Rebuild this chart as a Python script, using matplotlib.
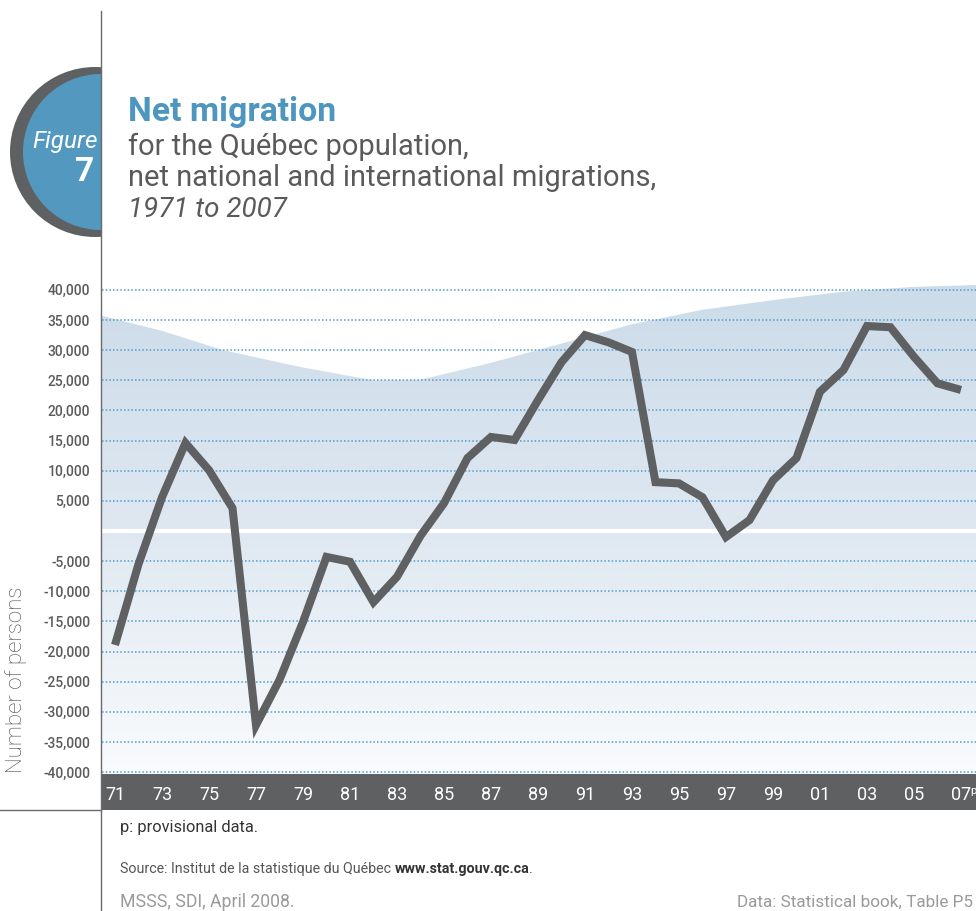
import numpy as np
import matplotlib
matplotlib.use("Agg")
import matplotlib.pyplot as plt
from matplotlib.patches import Polygon, Circle, Rectangle
from matplotlib.colors import to_rgb

# ---------------- data ----------------
years = list(range(1971, 2008))
net_migration = [-18900, -5500, 5600, 14600, 10100, 3800, -32200, -24700, -15100, -4300,
                 -5100, -11800, -7600, -800, 4600, 12100, 15600, 15100, 21700, 28000,
                 32500, 31300, 29700, 8100, 7900, 5600, -1000, 1800, 8400, 12100,
                 23100, 26700, 34000, 33800, 28900, 24500, 23400]
year_labels = ["71", "73", "75", "77", "79", "81", "83", "85", "87", "89",
               "91", "93", "95", "97", "99", "01", "03", "05", "07"]
ytick_values = [v for v in range(-40000, 40001, 5000) if v != 0]

# decorative background band (upper edge)
band_years = [1970.45, 1973, 1975.6, 1978.9, 1982, 1984, 1987, 1990.1, 1993, 1996, 1999, 2002, 2005, 2007.64]
band_top = [35700, 33200, 30000, 27200, 25000, 25100, 27900, 31200, 34300, 36700, 38300, 39700, 40500, 40800]

W, H = 976, 911
plt.rcParams['font.family'] = ['Roboto', 'DejaVu Sans']
fig = plt.figure(figsize=(W / 100, H / 100), dpi=100)

def fx(px):
    return px / W

def fy(py):
    return 1 - py / H

# main axes: pixels x 102..976, y 270..774
ax = fig.add_axes([fx(102), fy(774), fx(976) - fx(102), fy(270) - fy(774)])
ax.patch.set_visible(False)
xl = (1970.447, 2007.64)
yl = (-40312, 43298)
for s in ax.spines.values():
    s.set_visible(False)

# gradient fill clipped to band shape
top_c = np.array(to_rgb("#cbdbe9"))
mid_c = np.array(to_rgb("#dfe8f1"))
bot_c = np.array(to_rgb("#f9fbfd"))
n = 400
yy = np.linspace(yl[1], yl[0], n)
cols = np.zeros((n, 1, 3))
for i, v in enumerate(yy):
    if v >= 0:
        t = v / yl[1]
        cols[i, 0] = mid_c + (top_c - mid_c) * t
    else:
        t = v / yl[0]
        cols[i, 0] = mid_c + (bot_c - mid_c) * t
im = ax.imshow(cols, extent=[xl[0], xl[1], yl[0], yl[1]], aspect='auto', zorder=0.1, interpolation='bilinear')
verts = list(zip(band_years, band_top)) + [(xl[1], yl[0]), (xl[0], yl[0])]
poly = Polygon(verts, closed=True, facecolor='none', edgecolor='none', transform=ax.transData)
ax.add_patch(poly)
im.set_clip_path(poly)
ax.set_xlim(*xl)
ax.set_ylim(*yl)

# grid
ax.set_yticks(ytick_values)
ax.set_yticklabels([f"{v:,}" for v in ytick_values])
ax.yaxis.grid(True, color="#4f9ccb", linestyle=(0, (1, 1.4)), linewidth=1.1)
ax.set_axisbelow(True)
ax.tick_params(axis='y', length=0, pad=8.5, labelsize=10, labelcolor="#5b5b5b")
for lab in ax.get_yticklabels():
    lab.set_fontweight('medium')

ax.axhline(0, color='white', lw=3, zorder=1)

# x ticks inside bar
ax.set_xticks(years[::2])
ax.set_xticklabels(year_labels)
ax.tick_params(axis='x', length=0, pad=8.5, labelsize=13, labelcolor='white')
for lab in ax.get_xticklabels():
    lab.set_fontweight('normal')
ax.annotate("p", xy=(years[-1], 0), xycoords=('data', 'axes fraction'),
            xytext=(7.0, -8.5), textcoords='offset points', fontsize=8, color='white',
            ha='left', va='top', annotation_clip=False)

# series line
ax.plot(years, net_migration, color="#5f6062", lw=5.8, solid_capstyle='butt',
        solid_joinstyle='miter', zorder=3)

ax.set_ylabel("Number of persons", fontsize=16, color="#4a4a4a", fontweight='light')
ax.yaxis.set_label_coords(fx(27), fy(680), transform=fig.transFigure)

# bar under axes
fig.add_artist(Rectangle((fx(102), fy(810)), fx(976) - fx(102), fy(774) - fy(810),
                         transform=fig.transFigure, facecolor="#5f6062", edgecolor='none', zorder=-1))

# overlay for decoration
ov = fig.add_axes([0, 0, 1, 1], zorder=5)
ov.set_xlim(0, W)
ov.set_ylim(H, 0)
ov.axis('off')
ov.patch.set_visible(False)
clip = Rectangle((0, 0), 101, H, transform=ov.transData)
c1 = Circle((95, 152), 85, facecolor="#5f6062", edgecolor='none')
c2 = Circle((101, 152), 78, facecolor="#5398bf", edgecolor='none')
for c in (c1, c2):
    ov.add_patch(c)
    c.set_clip_path(clip)
ov.plot([101, 101], [11, 911], color="#6a6a6a", lw=1)
ov.plot([0, 101], [809.5, 809.5], color="#6a6a6a", lw=1)
ov.text(98, 148, "Figure", color='white', fontsize=17.5, style='italic', fontweight='normal',
        ha='right', va='baseline')
ov.text(94, 181, "7", color='white', fontsize=24, fontweight='bold', ha='right', va='baseline')

fig.canvas.draw()
r = fig.canvas.get_renderer()

def fit(t, target):
    bb = t.get_window_extent(r)
    t.set_fontsize(t.get_fontsize() * target / bb.width)
    return t

# titles
fit(ov.text(128, 121, "Net migration", color="#4d96bf", fontsize=20, fontweight='bold', va='baseline'), 208)
fit(ov.text(128, 155, "for the Québec population,", color="#5a5a5a", fontsize=17, va='baseline'), 340)
fit(ov.text(128, 186, "net national and international migrations,", color="#5a5a5a", fontsize=17, va='baseline'), 527)
fit(ov.text(128, 217, "1971 to 2007", color="#5a5a5a", fontsize=17, style='italic', va='baseline'), 159)

# footer
fit(ov.text(120, 832, "p: provisional data.", color="#333333", fontsize=10.5, va='baseline'), 138)
t1 = ov.text(120, 873, "Source: Institut de la statistique du Québec ", color="#555555", fontsize=10.3, va='baseline')
fig.canvas.draw()
bb = t1.get_window_extent(r)
t2 = ov.text(bb.x1, 873, "www.stat.gouv.qc.ca", color="#333333", fontsize=10.3, fontweight='bold', va='baseline')
bb2 = t2.get_window_extent(r)
ov.text(bb2.x1, 873, ".", color="#555555", fontsize=10.3, va='baseline')
fit(ov.text(120, 907, "MSSS, SDI, April 2008.", color="#9a9a9a", fontsize=11.5, va='baseline'), 174)
ov.text(973, 907, "Data: Statistical book, Table P5", color="#9a9a9a", fontsize=12.3, ha='right', va='baseline')

fig.savefig("out.png", dpi=100)
